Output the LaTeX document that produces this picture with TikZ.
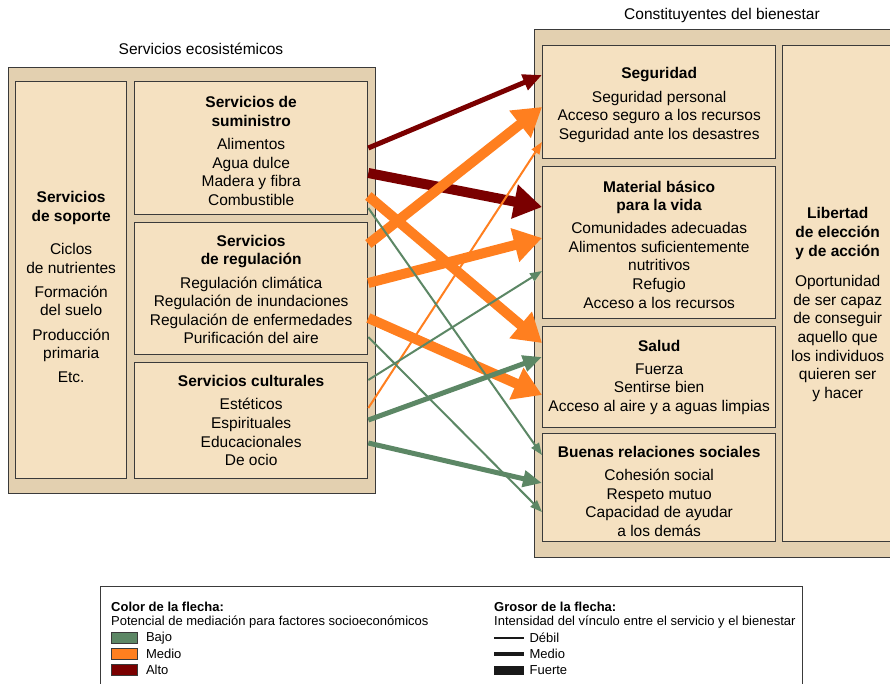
\documentclass[tikz,border=0pt]{standalone}
\usepackage{fontspec}
\setmainfont{Liberation Sans}
\usetikzlibrary{arrows.meta, positioning, calc}

\definecolor{caja}{HTML}{F5E1C1}
\definecolor{marco}{HTML}{E3D0B0}
\definecolor{borde}{HTML}{3A3A3A}
\definecolor{verde}{HTML}{5C8765}
\definecolor{naranja}{HTML}{FF7F1F}
\definecolor{granate}{HTML}{7A0000}
% taller first line, pushes a box's text block down
\newcommand{\bajar}[1]{\rule{0pt}{#1}}

\begin{document}
\begin{tikzpicture}[
  % one unit is one pixel of the 890 x 683 layout, y running down
  x=1pt, y=-1pt, font=\fontsize{15.5}{18.6}\selectfont,
  bx/.style={draw=borde, line width=1.3pt, align=center, anchor=north west, inner sep=2pt},
  grupo/.style={bx, fill=marco},
  serv/.style={bx, fill=caja, minimum width=233pt},
  tit/.style={inner sep=0pt},
  ley/.style={anchor=west, inner sep=0pt, font=\fontsize{13}{16}\selectfont},
  mues/.style={anchor=west, minimum width=26pt, minimum height=11pt, inner sep=0pt, draw=borde, line width=0.8pt},
  raya/.style={anchor=west, minimum width=30pt, minimum height=#1, inner sep=0pt, fill=black!90},
  bajo/.style={draw=verde},
  medio/.style={draw=naranja},
  alto/.style={draw=granate},
  debil/.style={line width=2pt, -{Triangle[length=12pt, width=9pt]}},
  mediano/.style={line width=5pt, -{Triangle[length=19pt, width=16pt]}},
  fuerte/.style={line width=10pt, -{Triangle[length=28pt, width=33pt]}},
]
\path[use as bounding box, fill=white] (0,0) rectangle (890,683);
% servicios ecosistemicos
\node[grupo, minimum width=367pt, minimum height=426pt] (eco) at (8,67) {};
\node[tit] (teco) at (201,49) {Servicios ecosistémicos};
\node[bx, fill=caja, minimum width=111pt, minimum height=397pt] (sop) at (15,81)
  {\bajar{25pt}\textbf{Servicios}\\\textbf{de soporte}\\[15pt] Ciclos\\de nutrientes\\[5.5pt]
   Formación\\del suelo\\[5.5pt] Producción\\primaria\\[5.5pt] Etc.};
\node[serv, minimum height=133pt] (sum) at (134,81)
  {\bajar{17pt}\textbf{Servicios de}\\\textbf{suministro}\\[4.5pt] Alimentos\\Agua dulce\\Madera y fibra\\Combustible};
\node[serv, minimum height=132pt] (reg) at (134,222)
  {\bajar{13pt}\textbf{Servicios}\\\textbf{de regulación}\\[4.5pt] Regulación climática\\Regulación de inundaciones\\
   Regulación de enfermedades\\Purificación del aire};
\node[serv, minimum height=116pt] (cul) at (134,362)
  {\textbf{Servicios culturales}\\[4.5pt] Estéticos\\Espirituales\\Educacionales\\De ocio};
% constituyentes del bienestar
\node[grupo, minimum width=366pt, minimum height=528pt] (bien) at (534,29) {};
\node[tit] (tbien) at (722,15) {Constituyentes del bienestar};
\node[serv, minimum height=113pt] (seg) at (542,45)
  {\bajar{17pt}\textbf{Seguridad}\\[5pt] Seguridad personal\\Acceso seguro a los recursos\\Seguridad ante los desastres};
\node[serv, minimum height=152pt] (mat) at (542,166)
  {\bajar{15pt}\textbf{Material básico}\\\textbf{para la vida}\\[4.5pt] Comunidades adecuadas\\Alimentos suficientemente\\
   nutritivos\\Refugio\\Acceso a los recursos};
\node[serv, minimum height=101pt] (sal) at (542,326)
  {\textbf{Salud}\\[4.5pt] Fuerza\\Sentirse bien\\Acceso al aire y a aguas limpias};
\node[serv, minimum height=108pt] (bue) at (542,433)
  {\bajar{19pt}\textbf{Buenas relaciones sociales}\\[4.5pt] Cohesión social\\Respeto mutuo\\Capacidad de ayudar\\a los demás};
\node[bx, fill=caja, minimum width=110pt, minimum height=496pt] (lib) at (782,45)
  {\bajar{33pt}\textbf{Libertad}\\\textbf{de elección}\\\textbf{y de acción}\\[12pt] Oportunidad\\de ser capaz\\de conseguir\\
   aquello que\\los individuos\\quieren ser\\y hacer};
% vinculos
\foreach \ori/\oy/\des/\dy/\col/\gro in {
    sum/67/seg/30/alto/mediano, sum/92/mat/41/alto/fuerte,
    reg/22/seg/62/medio/fuerte, cul/46/seg/97/medio/debil, sum/115/sal/17/medio/fuerte,
    reg/61/mat/72/medio/fuerte, reg/96/sal/69/medio/fuerte,
    sum/127/bue/22/bajo/debil, reg/115/bue/79/bajo/debil, cul/18/mat/105/bajo/debil,
    cul/58/sal/31/bajo/mediano, cul/81/bue/50/bajo/mediano}
  \draw[\col, \gro] ($(\ori.north east)+(0,\oy)$) -- ($(\des.north west)+(0,\dy)$);
% leyenda
\node[draw=borde, line width=1pt, minimum width=702pt, minimum height=110pt, anchor=north west] (ley) at (100,586) {};
\node[ley] (lcol) at (111,607) {\textbf{Color de la flecha:}};
\node[ley] (lpot) at (111,622) {Potencial de mediación para factores socioeconómicos};
\node[mues, fill=verde] (sbajo) at (111,638) {};
\node[mues, fill=naranja] (smedio) at (111,654) {};
\node[mues, fill=granate] (salto) at (111,670) {};
\node[ley, right=8pt of sbajo] {Bajo};
\node[ley, right=8pt of smedio] {Medio};
\node[ley, right=8pt of salto] {Alto};
\node[ley] (lgro) at (494,607) {\textbf{Grosor de la flecha:}};
\node[ley] (lint) at (494,622) {Intensidad del vínculo entre el servicio y el bienestar};
\node[raya=2pt] (rdeb) at (494,638) {};
\node[raya=4pt] (rmed) at (494,654) {};
\node[raya=9pt] (rfue) at (494,670) {};
\node[ley, right=5pt of rdeb] {Débil};
\node[ley, right=5pt of rmed] {Medio};
\node[ley, right=5pt of rfue] {Fuerte};
\end{tikzpicture}
\end{document}
